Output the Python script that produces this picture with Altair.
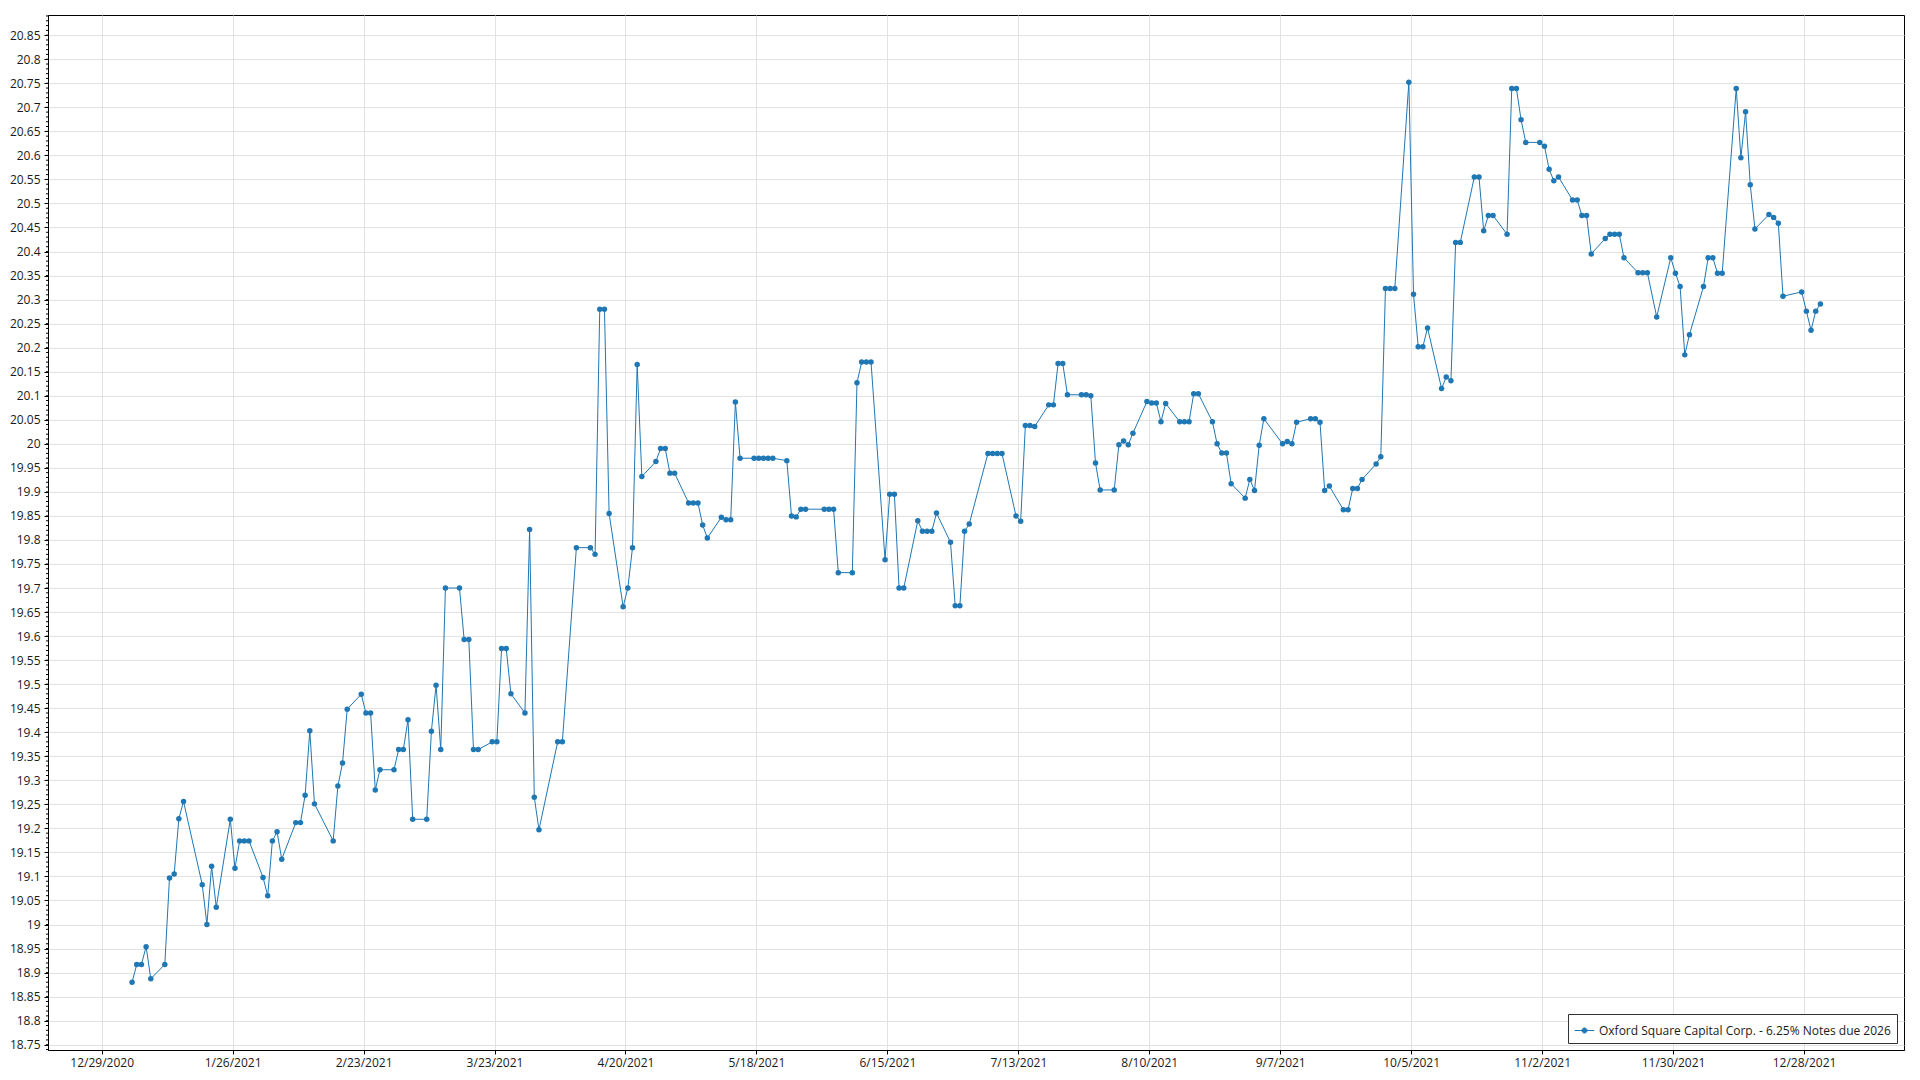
import altair as alt
import pandas as pd

series_name = "Oxford Square Capital Corp. - 6.25% Notes due 2026"

dates = [
    "01-04", "01-05", "01-06", "01-07", "01-08", "01-11", "01-12", "01-13", "01-14", "01-15",
    "01-19", "01-20", "01-21", "01-22", "01-25", "01-26", "01-27", "01-28", "01-29",
    "02-01", "02-02", "02-03", "02-04", "02-05", "02-08", "02-09", "02-10", "02-11", "02-12",
    "02-16", "02-17", "02-18", "02-19", "02-22", "02-23", "02-24", "02-25", "02-26",
    "03-01", "03-02", "03-03", "03-04", "03-05", "03-08", "03-09", "03-10", "03-11", "03-12",
    "03-15", "03-16", "03-17", "03-18", "03-19", "03-22", "03-23", "03-24", "03-25", "03-26",
    "03-29", "03-30", "03-31", "04-01", "04-05", "04-06", "04-09", "04-12", "04-13", "04-14",
    "04-15", "04-16", "04-19", "04-20", "04-21", "04-22", "04-23", "04-26", "04-27", "04-28",
    "04-29", "04-30", "05-03", "05-04", "05-05", "05-06", "05-07", "05-10", "05-11", "05-12",
    "05-13", "05-14", "05-17", "05-18", "05-19", "05-20", "05-21", "05-24", "05-25", "05-26",
    "05-27", "05-28", "06-01", "06-02", "06-03", "06-04", "06-07", "06-08", "06-09", "06-10",
    "06-11", "06-14", "06-15", "06-16", "06-17", "06-18", "06-21", "06-22", "06-23", "06-24",
    "06-25", "06-28", "06-29", "06-30", "07-01", "07-02", "07-06", "07-07", "07-08", "07-09",
    "07-12", "07-13", "07-14", "07-15", "07-16", "07-19", "07-20", "07-21", "07-22", "07-23",
    "07-26", "07-27", "07-28", "07-29", "07-30", "08-02", "08-03", "08-04", "08-05", "08-06",
    "08-09", "08-10", "08-11", "08-12", "08-13", "08-16", "08-17", "08-18", "08-19", "08-20",
    "08-23", "08-24", "08-25", "08-26", "08-27", "08-30", "08-31", "09-01", "09-02", "09-03",
    "09-07", "09-08", "09-09", "09-10", "09-13", "09-14", "09-15", "09-16", "09-17", "09-20",
    "09-21", "09-22", "09-23", "09-24", "09-27", "09-28", "09-29", "09-30", "10-01", "10-04",
    "10-05", "10-06", "10-07", "10-08", "10-11", "10-12", "10-13", "10-14", "10-15", "10-18",
    "10-19", "10-20", "10-21", "10-22", "10-25", "10-26", "10-27", "10-28", "10-29", "11-01",
    "11-02", "11-03", "11-04", "11-05", "11-08", "11-09", "11-10", "11-11", "11-12", "11-15",
    "11-16", "11-17", "11-18", "11-19", "11-22", "11-23", "11-24", "11-26", "11-29", "11-30",
    "12-01", "12-02", "12-03", "12-06", "12-07", "12-08", "12-09", "12-10", "12-13", "12-14",
    "12-15", "12-16", "12-17", "12-20", "12-21", "12-22", "12-23", "12-27", "12-28", "12-29",
    "12-30", "12-31",
]

prices = [
    18.880, 18.917, 18.917, 18.954, 18.887, 18.917, 19.097, 19.105, 19.220, 19.256,
    19.083, 19.000, 19.121, 19.036, 19.219, 19.117, 19.174, 19.174, 19.174,
    19.098, 19.060, 19.174, 19.193, 19.136, 19.212, 19.212, 19.269, 19.403, 19.251,
    19.174, 19.288, 19.336, 19.448, 19.479, 19.440, 19.440, 19.280, 19.322,
    19.322, 19.364, 19.364, 19.426, 19.219, 19.219, 19.402, 19.498, 19.364, 19.700,
    19.700, 19.593, 19.593, 19.364, 19.364, 19.380, 19.380, 19.574, 19.574, 19.480,
    19.440, 19.822, 19.265, 19.197, 19.380, 19.380, 19.784, 19.784, 19.770, 20.280,
    20.280, 19.855, 19.661, 19.700, 19.784, 20.165, 19.932, 19.963, 19.990, 19.990,
    19.939, 19.939, 19.877, 19.877, 19.877, 19.831, 19.804, 19.847, 19.842, 19.842,
    20.087, 19.970, 19.970, 19.970, 19.970, 19.970, 19.970, 19.965, 19.850, 19.848,
    19.864, 19.864, 19.864, 19.864, 19.864, 19.732, 19.732, 20.127, 20.170, 20.170,
    20.170, 19.759, 19.895, 19.895, 19.700, 19.700, 19.840, 19.818, 19.818, 19.818,
    19.856, 19.795, 19.663, 19.663, 19.818, 19.833, 19.980, 19.980, 19.980, 19.980,
    19.850, 19.839, 20.038, 20.038, 20.036, 20.081, 20.081, 20.167, 20.167, 20.102,
    20.102, 20.102, 20.100, 19.960, 19.904, 19.904, 19.998, 20.006, 19.998, 20.022,
    20.088, 20.085, 20.085, 20.046, 20.084, 20.046, 20.046, 20.046, 20.104, 20.104,
    20.046, 20.000, 19.981, 19.981, 19.917, 19.887, 19.926, 19.903, 19.997, 20.052,
    20.000, 20.005, 20.000, 20.045, 20.052, 20.052, 20.045, 19.903, 19.912, 19.863,
    19.863, 19.907, 19.907, 19.926, 19.958, 19.973, 20.323, 20.323, 20.323, 20.752,
    20.311, 20.202, 20.202, 20.241, 20.115, 20.139, 20.131, 20.419, 20.419, 20.555,
    20.555, 20.443, 20.475, 20.475, 20.436, 20.739, 20.739, 20.674, 20.627, 20.627,
    20.619, 20.571, 20.547, 20.555, 20.507, 20.507, 20.475, 20.475, 20.395, 20.427,
    20.436, 20.436, 20.436, 20.387, 20.356, 20.356, 20.356, 20.264, 20.387, 20.355,
    20.327, 20.185, 20.227, 20.327, 20.387, 20.387, 20.355, 20.355, 20.739, 20.595,
    20.691, 20.539, 20.447, 20.477, 20.471, 20.459, 20.307, 20.316, 20.276, 20.236,
    20.276, 20.291,
]

x_tick_dates = [
    (2020, 12, 29), (2021, 1, 26), (2021, 2, 23), (2021, 3, 23), (2021, 4, 20),
    (2021, 5, 18), (2021, 6, 15), (2021, 7, 13), (2021, 8, 10), (2021, 9, 7),
    (2021, 10, 5), (2021, 11, 2), (2021, 11, 30), (2021, 12, 28),
]
y_major_ticks = [round(18.75 + 0.05 * i, 2) for i in range(43)]
y_minor_ticks = [round(18.74 + 0.01 * i, 2) for i in range(216)]

BLUE = "#1f77b4"
FONT = "Open Sans"

df = pd.DataFrame({
    "date": [f"2021-{d}T12:00:00" for d in dates],
    "price": prices,
    "series": series_name,
})

x_scale = alt.Scale(
    domain=[alt.DateTime(year=2020, month=12, date=17, hours=12, minutes=30),
            alt.DateTime(year=2022, month=1, date=18, hours=9)],
    nice=False,
)
y_scale = alt.Scale(domain=[18.739, 20.892], nice=False, zero=False)

y_axis = alt.Axis(values=y_major_ticks,
                  labelExpr="format(datum.value, '.2~f')",
                  tickSize=4, labelPadding=4, labelOverlap=False)

legend_symbol = "M-1,0L1,0M-0.26,0A0.26,0.26,0,1,1,0.26,0A0.26,0.26,0,1,1,-0.26,0Z"

line = alt.Chart(df).mark_line(
    strokeWidth=1,
    point=alt.OverlayMarkDef(filled=True, size=30, opacity=1),
).encode(
    x=alt.X("date:T", scale=x_scale, title=None,
            axis=alt.Axis(
                values=[alt.DateTime(year=y, month=m, date=d) for (y, m, d) in x_tick_dates],
                labelExpr="timeFormat(datum.value, '%-m/%-d/%Y')",
                tickSize=4, labelPadding=3, labelFlush=False, labelOverlap=False,
            )),
    y=alt.Y("price:Q", scale=y_scale, title=None, axis=y_axis),
    color=alt.Color("series:N", scale=alt.Scale(range=[BLUE]),
                    legend=alt.Legend(
                        title=None, orient="bottom-right", offset=7,
                        strokeColor="#333333", fillColor="white", padding=6,
                        symbolType=legend_symbol, symbolSize=380,
                        symbolStrokeWidth=1, symbolFillColor=BLUE,
                        symbolStrokeColor=BLUE,
                        labelFont=FONT, labelFontSize=12, labelColor="#1a1a1a",
                        labelLimit=500,
                    )),
)

minor = alt.Chart(pd.DataFrame({"tick": y_minor_ticks})).mark_rule(
    color="black", strokeWidth=1
).encode(
    y=alt.Y("tick:Q", scale=y_scale, title=None, axis=y_axis),
    x=alt.value(-2),
    x2=alt.value(0),
)

chart = alt.layer(line, minor).properties(
    width=1856,
    height=1035,
    autosize=alt.AutoSizeParams(type="none"),
    padding={"left": 40, "top": 7, "right": 8, "bottom": 25},
).configure_view(
    stroke="black", strokeWidth=1
).configure_axis(
    domainColor="black", tickColor="black",
    gridColor="#e2e2e2", gridWidth=1,
    labelFont=FONT, labelFontSize=12, labelColor="#1a1a1a",
)

chart.save("out.html", embed_options={"renderer": "svg", "actions": False})
